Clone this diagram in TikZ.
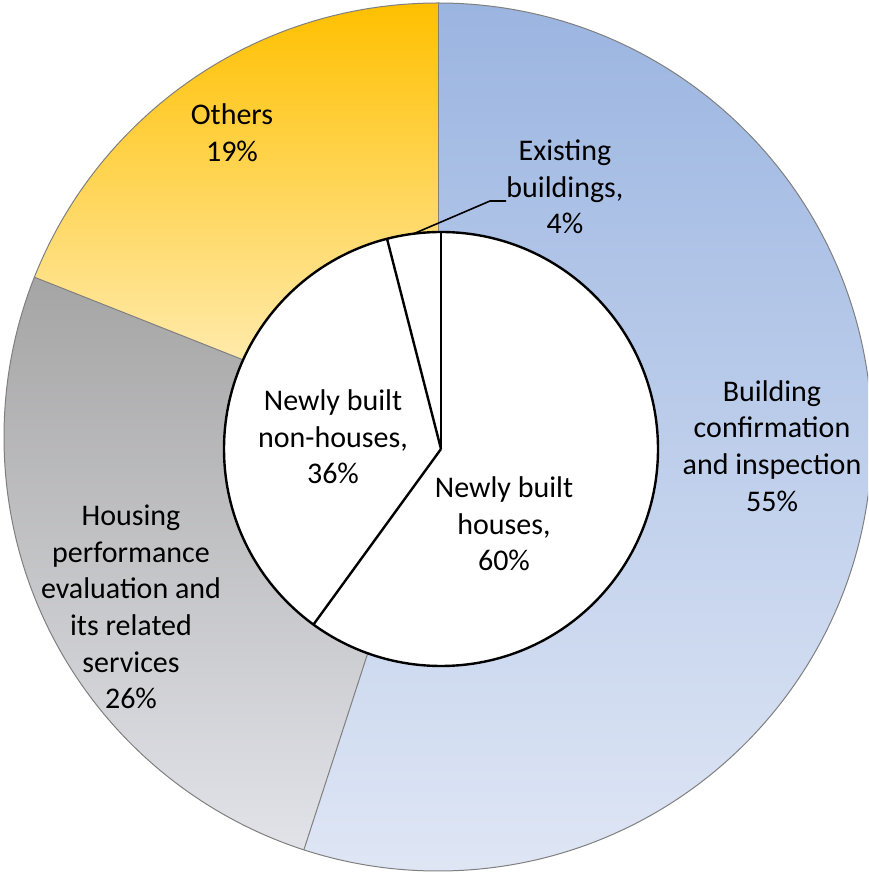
\documentclass[tikz,border=0pt]{standalone}
\usepackage{fontspec}
\setmainfont{Carlito}

\definecolor{bldTop}{HTML}{9BB5E1}
\definecolor{bldBot}{HTML}{E0E7F5}
\definecolor{hsgTop}{HTML}{A5A5A5}
\definecolor{hsgBot}{HTML}{E2E3E9}
\definecolor{othTop}{HTML}{FFC000}
\definecolor{othBot}{HTML}{FFF3CF}
\definecolor{ringGray}{HTML}{7F7F7F}

\tikzset{
  ringline/.style={draw=ringGray, line width=0.5pt},
  pieline/.style={draw=black, line width=1.2pt},
  slicelabel/.style={align=center, inner sep=0pt, font=\fontsize{15}{18.3}\selectfont}
}

\begin{document}
\begin{tikzpicture}[x=0.5pt,y=0.5pt]
   \useasboundingbox (0,0) rectangle (868,873);
   \clip (0,0) rectangle (868,873);
   \coordinate (O) at (438,436);
   \coordinate (I) at (441,424);
   % outer ring
   \shade[top color=bldTop, bottom color=bldBot] (O) -- ++(90:434) arc (90:-108:434) -- cycle;
   \shade[top color=hsgTop, bottom color=hsgBot] (O) -- ++(-108:434) arc (-108:-201.6:434) -- cycle;
   \shade[top color=othTop, bottom color=othBot] (O) -- ++(158.4:434) arc (158.4:90:434) -- cycle;
   \draw[ringline] (O) circle (434);
   \draw[ringline] (O) -- ++(90:434);
   \draw[ringline] (O) -- ++(-108:434);
   \draw[ringline] (O) -- ++(158.4:434);
   % inner pie
   \fill[white] (I) circle (217);
   \draw[pieline] (I) circle (217);
   \draw[pieline] (I) -- ++(90:217);
   \draw[pieline] (I) -- ++(-126:217);
   \draw[pieline] (I) -- ++(104.4:217);
   % labels
   \node[slicelabel] (others) at (232,740) {Others\\19\%};
   \node[slicelabel] (existing) at (565,686) {Existing\\buildings,\\4\%};
   \node[slicelabel] (confirm) at (772,427) {Building\\confirmation\\and inspection\\55\%};
   \node[slicelabel] (housing) at (131,266) {Housing\\performance\\evaluation and\\its related\\services\\26\%};
   \node[slicelabel] (nonhouses) at (333,436) {Newly built\\non-houses,\\36\%};
   \node[slicelabel] (houses) at (504,349) {Newly built\\houses,\\60\%};
   % leader
   \coordinate (tip) at (413,639);
   \coordinate (bend) at (490,672);
   \draw[line width=0.8pt] (tip) -- (bend) -- (bend -| existing.west);
\end{tikzpicture}
\end{document}
